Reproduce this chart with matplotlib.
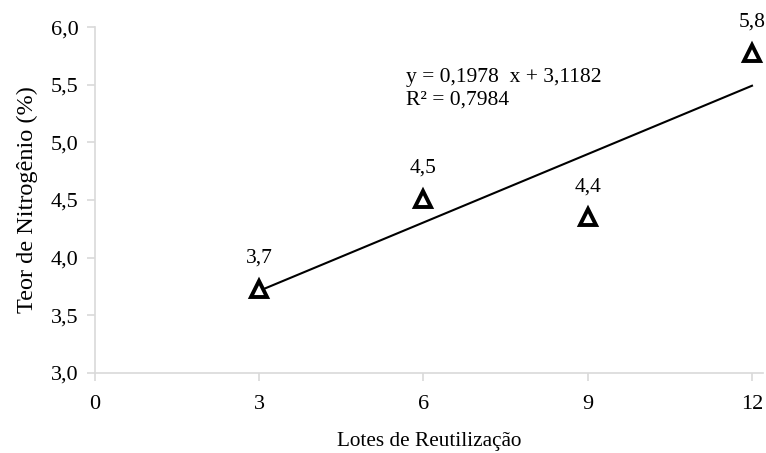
import matplotlib
matplotlib.use('Agg')
import numpy as np
import matplotlib.pyplot as plt
from matplotlib.ticker import FuncFormatter

# Data.
lotes = [3, 6, 9, 12]
teor_n = [3.73, 4.51, 4.35, 5.78]
point_labels = ['3,7', '4,5', '4,4', '5,8']
slope = 0.1978
intercept = 3.1182
r_squared = 0.7984
x_ticks = [0, 3, 6, 9, 12]
y_ticks = [3.0, 3.5, 4.0, 4.5, 5.0, 5.5, 6.0]

plt.rcParams['font.family'] = ['Liberation Serif', 'DejaVu Serif']

fig = plt.figure(figsize=(7.66, 4.53), dpi=100)
ax = fig.add_axes([0.124, 0.177, 0.872, 0.763])

# Trend line between the first and last lot.
line_x = np.array([min(lotes), max(lotes)])
ax.plot(line_x, slope * line_x + intercept, color='black', linewidth=1.5, zorder=2)

ax.plot(lotes, teor_n, linestyle='none', marker='^', markersize=11,
        markerfacecolor='white', markeredgecolor='black',
        markeredgewidth=2.8, zorder=3, clip_on=False)

for x, y, label in zip(lotes, teor_n, point_labels):
    ax.annotate(label, (x, y), xytext=(0, 15), textcoords='offset points',
                ha='center', va='bottom', fontsize=15.5)

eq_text = 'y = {:.4f}  x + {:.4f}\nR² = {:.4f}'.format(slope, intercept, r_squared)
ax.text(5.68, 5.65, eq_text.replace('.', ','),
        fontsize=15.5, va='top', ha='left', linespacing=1.3)

ax.set_xlim(0, 12.2)
ax.set_ylim(3.0, 6.0)
ax.set_xticks(x_ticks)
ax.set_yticks(y_ticks)
ax.yaxis.set_major_formatter(FuncFormatter(lambda v, p: f'{v:.1f}'.replace('.', ',')))

# Light gray axes, only left and bottom.
for side in ['top', 'right']:
    ax.spines[side].set_visible(False)
for side in ['left', 'bottom']:
    ax.spines[side].set_color('#d9d9d9')
    ax.spines[side].set_linewidth(1.2)
ax.tick_params(axis='both', colors='#d9d9d9', labelcolor='black',
               labelsize=16, length=6, width=1.2, direction='out')
ax.tick_params(axis='x', pad=10)
ax.tick_params(axis='y', pad=6)

ax.set_xlabel('Lotes de Reutilização', fontsize=15.3, labelpad=13)
ax.set_ylabel('Teor de Nitrogênio (%)', fontsize=17.5, labelpad=9)

fig.savefig('out.png', dpi=100)
